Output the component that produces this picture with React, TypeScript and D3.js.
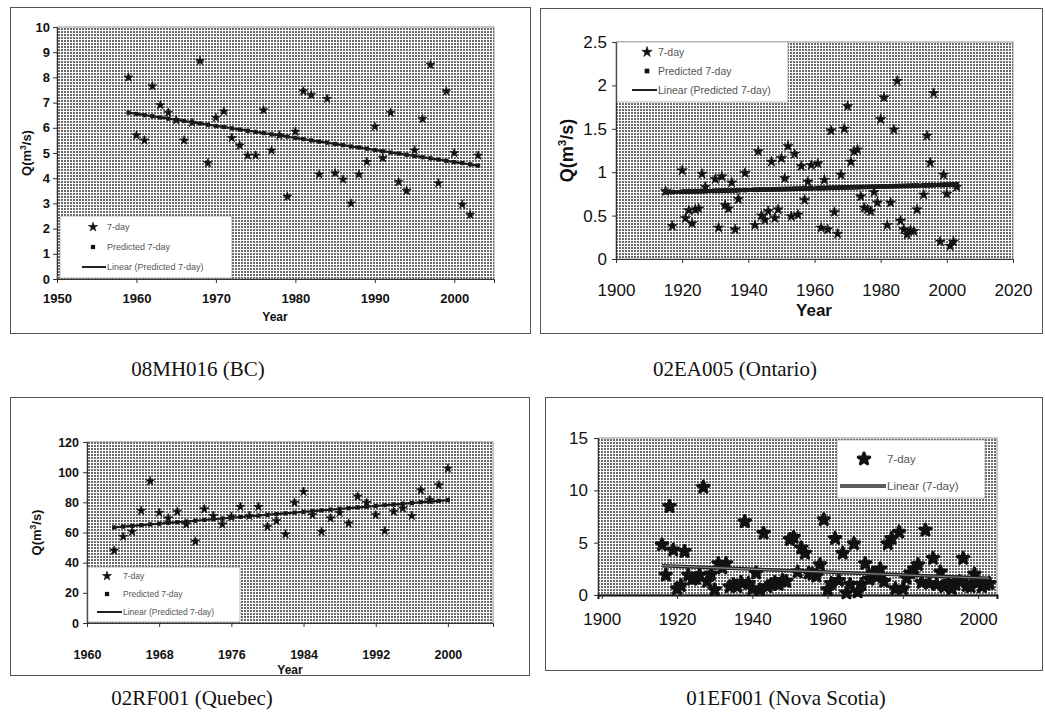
import React, { useEffect, useRef } from 'react';
import * as d3 from 'd3';

// ---- 08MH016 (BC) ----
const bcYears = d3.range(1959, 2004);
const bcSevenDay = [
  8.0, 5.7, 5.5, 7.65, 6.9, 6.6, 6.3, 5.5, 6.2, 8.65,
  4.6, 6.4, 6.65, 5.6, 5.3, 4.9, 4.9, 6.7, 5.1, 5.7,
  3.27, 5.85, 7.45, 7.3, 4.15, 7.15, 4.2, 3.95, 3.0, 4.15,
  4.65, 6.05, 4.8, 6.6, 3.85, 3.5, 5.1, 6.35, 8.5, 3.8,
  7.45, 5.0, 2.95, 2.55, 4.9,
];
const bcPredicted = [
  6.60, 6.55, 6.50, 6.46, 6.41, 6.36, 6.31, 6.27, 6.22, 6.17,
  6.12, 6.07, 6.03, 5.98, 5.93, 5.88, 5.84, 5.79, 5.74, 5.69,
  5.65, 5.60, 5.55, 5.50, 5.45, 5.41, 5.36, 5.31, 5.26, 5.22,
  5.17, 5.12, 5.07, 5.02, 4.98, 4.93, 4.88, 4.83, 4.79, 4.74,
  4.69, 4.64, 4.60, 4.55, 4.50,
];

// ---- 02EA005 (Ontario) ----
const onYears = [
  1915, 1917, 1920, 1921, 1922, 1923, 1924, 1925, 1926, 1927,
  1930, 1931, 1932, 1933, 1934, 1935, 1936, 1937, 1939,
  1942, 1943, 1944, 1945, 1946, 1947, 1948, 1949, 1950, 1951,
  1952, 1953, 1954, 1955, 1956, 1957, 1958, 1959,
  1961, 1962, 1963, 1964, 1965, 1966, 1967, 1968, 1969, 1970,
  1971, 1972, 1973, 1974, 1975, 1976, 1977, 1978, 1979, 1980,
  1981, 1982, 1983, 1984, 1985, 1986, 1987, 1988, 1989, 1990,
  1991, 1993, 1994, 1995, 1996, 1998, 1999, 2000, 2001, 2002, 2003,
];
const onSevenDay = [
  0.78, 0.38, 1.02, 0.47, 0.56, 0.41, 0.57, 0.58, 0.98, 0.83,
  0.92, 0.36, 0.95, 0.62, 0.58, 0.88, 0.34, 0.69, 0.99,
  0.39, 1.24, 0.50, 0.45, 0.55, 1.12, 0.47, 0.57, 1.16, 0.93,
  1.30, 0.49, 1.21, 0.51, 1.07, 0.68, 0.89, 1.08,
  1.10, 0.36, 0.91, 0.34, 1.48, 0.54, 0.29, 0.97, 1.50, 1.76,
  1.12, 1.24, 1.26, 0.72, 0.59, 0.57, 0.55, 0.77, 0.65, 1.61,
  1.86, 0.39, 0.65, 1.49, 2.05, 0.44, 0.34, 0.28, 0.33, 0.32,
  0.57, 0.74, 1.42, 1.11, 1.91, 0.20, 0.97, 0.75, 0.15, 0.20, 0.83,
];
const onPredicted = [
  0.770, 0.772, 0.775, 0.776, 0.777, 0.778, 0.779, 0.780, 0.781, 0.782,
  0.785, 0.786, 0.787, 0.788, 0.789, 0.790, 0.791, 0.792, 0.794,
  0.797, 0.798, 0.799, 0.800, 0.801, 0.802, 0.803, 0.804, 0.805, 0.806,
  0.807, 0.808, 0.809, 0.810, 0.811, 0.812, 0.813, 0.814,
  0.816, 0.817, 0.818, 0.819, 0.820, 0.821, 0.822, 0.823, 0.824, 0.825,
  0.826, 0.827, 0.828, 0.829, 0.830, 0.831, 0.832, 0.833, 0.834, 0.835,
  0.836, 0.837, 0.838, 0.839, 0.840, 0.841, 0.842, 0.843, 0.844, 0.845,
  0.846, 0.848, 0.849, 0.850, 0.851, 0.853, 0.854, 0.855, 0.856, 0.857, 0.858,
];

// ---- 02RF001 (Quebec) ----
const qcYears = d3.range(1963, 2001);
const qcSevenDay = [
  48, 57.2, 60.5, 74.4, 94, 73.1, 69.4, 73.8, 65.4, 54,
  75.5, 71, 65.4, 70.5, 77, 71, 77, 63.8, 67.6, 58.8,
  79.7, 87, 71.6, 60.5, 69.4, 73, 66, 83.8, 79.7, 71.6,
  61, 73.8, 76, 71, 88, 81.5, 91.4, 102.4,
];
const qcPredicted = [
  63.4, 63.9, 64.4, 64.9, 65.4, 65.8, 66.3, 66.8, 67.3, 67.8,
  68.3, 68.8, 69.3, 69.8, 70.3, 70.7, 71.2, 71.7, 72.2, 72.7,
  73.2, 73.7, 74.2, 74.7, 75.2, 75.6, 76.1, 76.6, 77.1, 77.6,
  78.1, 78.6, 79.1, 79.6, 80.1, 80.5, 81.0, 81.5,
];

// ---- 01EF001 (Nova Scotia) ----
const nsYears = d3.range(1916, 2004);
const nsSevenDay = [
  4.8, 1.9, 8.45, 4.3, 0.6, 0.9, 4.15, 1.9, 1.5, 1.6,
  1.9, 10.3, 1.3, 2.0, 0.5, 3.0, 2.6, 3.0, 0.8, 1.0,
  0.8, 1.2, 7.0, 1.1, 0.6, 2.1, 0.5, 5.9, 0.8, 1.0,
  1.2, 1.0, 1.4, 1.3, 5.3, 5.5, 2.2, 4.5, 4.0, 2.1,
  2.0, 1.8, 2.9, 7.2, 0.5, 1.1, 5.4, 1.4, 4.0, 0.2,
  1.0, 4.9, 0.3, 1.0, 3.0, 1.5, 2.1, 1.7, 2.5, 1.3,
  4.9, 5.4, 0.6, 6.0, 0.6, 1.6, 2.1, 2.5, 2.9, 1.2,
  6.2, 1.1, 3.5, 1.0, 2.2, 0.8, 1.2, 0.6, 1.0, 1.3,
  3.5, 0.9, 0.8, 2.0, 1.2, 0.8, 1.0, 1.1,
];
const nsTrendYears = [1916, 2003];
const nsTrendValues = [2.8, 1.6];

const sans = 'Arial, "Liberation Sans", sans-serif';
const serif = '"Times New Roman", "Liberation Serif", serif';

const panels = [
  {
    title: '08MH016 (BC)', titleX: 198, titleY: 376,
    border: [10, 7, 520, 326],
    plot: { left: 57, right: 494, top: 27, bottom: 279 },
    xDomain: [1950, 2005], xTicks: d3.range(1950, 2001, 10),
    yDomain: [0, 10], yTicks: d3.range(0, 11, 1),
    tickSize: 13, tickBold: true, yLabelX: 50, xLabelY: 303,
    yTitle: { x: 31, size: 13 }, xTitle: { x: 275, y: 321, size: 12 },
    seven: { years: bcYears, values: bcSevenDay }, starSize: 26, starStroke: 0.6,
    predicted: { years: bcYears, values: bcPredicted }, sqSize: 18,
    trend: { years: [bcYears[0], bcYears[bcYears.length - 1]], values: [bcPredicted[0], bcPredicted[bcPredicted.length - 1]] },
    trendWidth: 2.2, doubleTrend: false,
    legend: { x: 60, y: 216, w: 172, h: 62, rows: [227, 247, 267], markerX: 93, textX: 107, lineX0: 82, font: 9,
      labels: ['7-day', 'Predicted 7-day', 'Linear (Predicted 7-day)'] },
  },
  {
    title: '02EA005 (Ontario)', titleX: 735, titleY: 376,
    border: [540, 8, 502, 325],
    plot: { left: 616, right: 1013, top: 42, bottom: 259 },
    xDomain: [1900, 2020], xTicks: d3.range(1900, 2021, 20),
    yDomain: [0, 2.5], yTicks: [0, 0.5, 1, 1.5, 2, 2.5],
    tickSize: 17, tickBold: false, yLabelX: 607, xLabelY: 296,
    yTitle: { x: 573, size: 18 }, xTitle: { x: 814, y: 316, size: 17 },
    seven: { years: onYears, values: onSevenDay }, starSize: 34, starStroke: 0.6,
    predicted: { years: onYears, values: onPredicted }, sqSize: 22,
    trend: { years: [onYears[0], onYears[onYears.length - 1]], values: [onPredicted[0], onPredicted[onPredicted.length - 1]] },
    trendWidth: 4, doubleTrend: false,
    legend: { x: 617, y: 42, w: 171, h: 60, rows: [52, 71, 90], markerX: 647, textX: 658, lineX0: 632, font: 10.5,
      labels: ['7-day', 'Predicted 7-day', 'Linear (Predicted 7-day)'] },
  },
  {
    title: '02RF001 (Quebec)', titleX: 192, titleY: 705,
    border: [10, 397, 519, 278],
    plot: { left: 87, right: 493, top: 442, bottom: 623 },
    xDomain: [1960, 2005], xTicks: d3.range(1960, 2001, 8),
    yDomain: [0, 120], yTicks: d3.range(0, 121, 20),
    tickSize: 12.5, tickBold: true, yLabelX: 79, xLabelY: 659,
    yTitle: { x: 41, size: 13 }, xTitle: { x: 290, y: 673.5, size: 12 },
    seven: { years: qcYears, values: qcSevenDay }, starSize: 26, starStroke: 0.6,
    predicted: { years: qcYears, values: qcPredicted }, sqSize: 18,
    trend: { years: [qcYears[0], qcYears[qcYears.length - 1]], values: [qcPredicted[0], qcPredicted[qcPredicted.length - 1]] },
    trendWidth: 2.2, doubleTrend: false,
    legend: { x: 88, y: 567, w: 152, h: 55, rows: [576, 594, 612], markerX: 107, textX: 123, lineX0: 97, font: 8.5,
      labels: ['7-day', 'Predicted 7-day', 'Linear (Predicted 7-day)'] },
  },
  {
    title: '01EF001 (Nova Scotia)', titleX: 786, titleY: 705,
    border: [545, 397, 497, 273],
    plot: { left: 598, right: 997, top: 438, bottom: 595 },
    xDomain: [1899, 2005], xTicks: d3.range(1900, 2001, 20),
    yDomain: [0, 15], yTicks: [0, 5, 10, 15],
    tickSize: 17, tickBold: false, yLabelX: 588, xLabelY: 625,
    yTitle: null, xTitle: null,
    seven: { years: nsYears, values: nsSevenDay }, starSize: 40, starStroke: 3.2,
    predicted: null, sqSize: 0,
    trend: { years: nsTrendYears, values: nsTrendValues },
    trendWidth: 3.5, doubleTrend: true,
    legend: { x: 837, y: 440, w: 148, h: 58, rows: [459, 486], markerX: 864, textX: 887, lineX0: 840, font: 11.5,
      labels: ['7-day', 'Linear (7-day)'] },
  },
];

function drawPanel(svg, p) {
  const g = svg.append('g');
  const [bx, by, bw, bh] = p.border;

  g.append('rect')
    .attr('x', bx + 0.5).attr('y', by + 0.5)
    .attr('width', bw).attr('height', bh)
    .attr('fill', '#fff').attr('stroke', '#555').attr('stroke-width', 1);

  const x = d3.scaleLinear().domain(p.xDomain).range([p.plot.left, p.plot.right]);
  const y = d3.scaleLinear().domain(p.yDomain).range([p.plot.bottom, p.plot.top]);

  g.append('rect')
    .attr('x', p.plot.left).attr('y', p.plot.top)
    .attr('width', p.plot.right - p.plot.left)
    .attr('height', p.plot.bottom - p.plot.top)
    .attr('fill', 'url(#scanGray)')
    .attr('stroke', '#777').attr('stroke-width', 0.8);

  const tick = 4;
  const yAxis = g.append('g')
    .attr('transform', `translate(${p.plot.left},0)`)
    .call(d3.axisLeft(y).tickValues(p.yTicks).tickSize(tick)
      .tickPadding(p.plot.left - p.yLabelX - tick).tickFormat(d => String(d)));
  const xAxis = g.append('g')
    .attr('transform', `translate(0,${p.plot.bottom})`)
    .call(d3.axisBottom(x).tickValues(p.xTicks).tickSize(tick)
      .tickPadding(p.xLabelY - p.plot.bottom - tick - p.tickSize * 0.71).tickFormat(d => String(d)));

  [yAxis, xAxis].forEach(ax => {
    ax.select('.domain').attr('stroke', '#333').attr('stroke-width', 1);
    ax.selectAll('line').attr('stroke', '#333');
    ax.selectAll('text')
      .attr('font-family', sans)
      .attr('font-size', p.tickSize)
      .attr('font-weight', p.tickBold ? 'bold' : 'normal')
      .attr('fill', '#111');
  });
  if (!p.predicted) {
    // heavy zero line along the bottom of the plot
    xAxis.select('.domain').attr('stroke', '#111').attr('stroke-width', 2);
  }

  if (p.yTitle) {
    const t = g.append('text')
      .attr('transform', `translate(${p.yTitle.x},${(p.plot.top + p.plot.bottom) / 2}) rotate(-90)`)
      .attr('text-anchor', 'middle')
      .attr('font-family', sans).attr('font-weight', 'bold')
      .attr('font-size', p.yTitle.size).attr('fill', '#111');
    t.append('tspan').text('Q(m');
    t.append('tspan').attr('dy', -p.yTitle.size * 0.4).attr('font-size', p.yTitle.size * 0.65).text('3');
    t.append('tspan').attr('dy', p.yTitle.size * 0.4).text('/s)');
  }
  if (p.xTitle) {
    g.append('text')
      .attr('x', p.xTitle.x).attr('y', p.xTitle.y)
      .attr('text-anchor', 'middle')
      .attr('font-family', sans).attr('font-weight', 'bold')
      .attr('font-size', p.xTitle.size).attr('fill', '#111')
      .text('Year');
  }

  const star = d3.symbol().type(d3.symbolStar).size(p.starSize);
  const square = d3.symbol().type(d3.symbolSquare).size(p.sqSize);

  // 7-day
  g.append('g').selectAll('path')
    .data(p.seven.years.map((yr, i) => [yr, p.seven.values[i]]))
    .enter().append('path')
    .attr('d', star)
    .attr('transform', d => `translate(${x(d[0])},${y(d[1])})`)
    .attr('fill', '#111')
    .attr('stroke', '#111').attr('stroke-width', p.starStroke)
    .attr('stroke-linejoin', 'round');

  // Predicted 7-day
  if (p.predicted) {
    g.append('g').selectAll('path')
      .data(p.predicted.years.map((yr, i) => [yr, p.predicted.values[i]]))
      .enter().append('path')
      .attr('d', square)
      .attr('transform', d => `translate(${x(d[0])},${y(d[1])})`)
      .attr('fill', '#1a1a1a');
  }

  // Linear trend
  const line = d3.line().x(d => x(d[0])).y(d => y(d[1]));
  const trendPts = p.trend.years.map((yr, i) => [yr, p.trend.values[i]]);
  g.append('path')
    .datum(trendPts)
    .attr('d', line)
    .attr('fill', 'none')
    .attr('stroke', p.predicted ? '#1a1a1a' : '#222')
    .attr('stroke-width', p.trendWidth);
  if (p.doubleTrend) {
    g.append('path')
      .datum(trendPts)
      .attr('d', line)
      .attr('fill', 'none')
      .attr('stroke', '#888')
      .attr('stroke-width', 1.2);
  }

  // Legend
  const L = p.legend;
  const lg = g.append('g');
  lg.append('rect')
    .attr('x', L.x).attr('y', L.y).attr('width', L.w).attr('height', L.h)
    .attr('fill', '#fff').attr('stroke', '#888').attr('stroke-width', 0.6);
  L.labels.forEach((label, i) => {
    const ry = L.rows[i];
    if (label.startsWith('Linear')) {
      lg.append('line')
        .attr('x1', L.lineX0).attr('x2', L.textX - 1)
        .attr('y1', ry).attr('y2', ry)
        .attr('stroke', '#222').attr('stroke-width', p.doubleTrend ? 3.5 : 2);
      if (p.doubleTrend) {
        lg.append('line')
          .attr('x1', L.lineX0).attr('x2', L.textX - 1)
          .attr('y1', ry).attr('y2', ry)
          .attr('stroke', '#999').attr('stroke-width', 1.2);
      }
    } else {
      const isPred = label.startsWith('Predicted');
      lg.append('path')
        .attr('d', isPred ? square : star)
        .attr('transform', `translate(${L.markerX},${ry})`)
        .attr('fill', '#111').attr('stroke', '#111')
        .attr('stroke-linejoin', 'round')
        .attr('stroke-width', isPred ? 0 : p.starStroke);
    }
    lg.append('text')
      .attr('x', L.textX).attr('y', ry)
      .attr('dy', '0.35em')
      .attr('font-family', sans).attr('font-size', L.font)
      .attr('fill', '#555')
      .text(label);
  });

  // Panel caption
  svg.append('text')
    .attr('x', p.titleX).attr('y', p.titleY)
    .attr('text-anchor', 'middle')
    .attr('font-family', serif).attr('font-size', 21)
    .attr('fill', '#111')
    .text(p.title);
}

const App = () => {
  const svgRef = useRef(null);

  useEffect(() => {
    const svg = d3.select(svgRef.current);
    svg.selectAll('*').remove();

    // scanned "grey 50%" fill of the plot areas
    const pat = svg.append('defs').append('pattern')
      .attr('id', 'scanGray')
      .attr('width', 3).attr('height', 3)
      .attr('patternUnits', 'userSpaceOnUse');
    pat.append('rect').attr('width', 3).attr('height', 3).attr('fill', '#6a6a6a');
    pat.append('rect').attr('width', 3).attr('height', 1).attr('fill', '#fff');
    pat.append('rect').attr('width', 1).attr('height', 3).attr('fill', '#fff');

    panels.forEach(p => drawPanel(svg, p));
  }, []);

  return (
    <svg
      ref={svgRef}
      width={1045}
      height={715}
      style={{ position: 'absolute', left: 0, top: 0, background: '#fff' }}
    />
  );
};

export default App;
